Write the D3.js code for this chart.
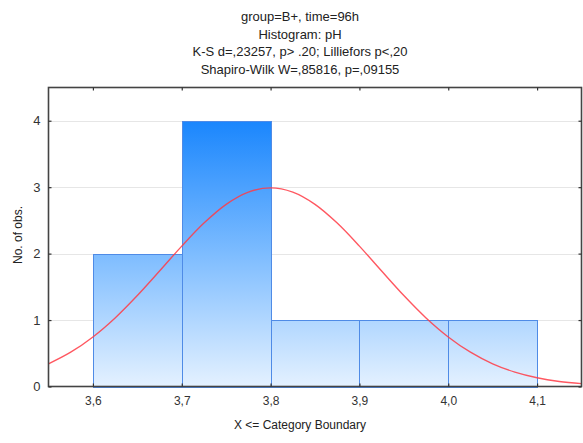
<!DOCTYPE html>
<html><head><meta charset="utf-8">
<script src="https://cdn.jsdelivr.net/npm/d3@7"></script>
<style>
html,body{margin:0;padding:0;background:#fff;}
text{font-family:"Liberation Sans",Arial,sans-serif;}
</style></head>
<body>
<svg id="chart" width="583" height="443"></svg>
<script>
// ---- data ----
const titleLines = ["group=B+, time=96h","Histogram: pH","K-S d=,23257, p> .20; Lilliefors p<,20","Shapiro-Wilk W=,85816, p=,09155"];
const binStarts = [3.6, 3.7, 3.8, 3.9, 4.0];
const binEnds   = [3.7, 3.8, 3.9, 4.0, 4.1];
const counts    = [2, 4, 1, 1, 1];
const xTicks = [3.6, 3.7, 3.8, 3.9, 4.0, 4.1];
const xTickLabels = ["3,6","3,7","3,8","3,9","4,0","4,1"];
const yTicks = [0, 1, 2, 3, 4];
const curveX = [3.55,3.575,3.6,3.625,3.65,3.675,3.7,3.725,3.75,3.775,3.8,3.825,3.85,3.875,3.9,3.925,3.95,3.975,4.0,4.025,4.05,4.075,4.1,4.125,4.15];
const curveY = [0.341,0.516,0.746,1.032,1.369,1.738,2.113,2.460,2.742,2.926,2.99,2.926,2.742,2.460,2.113,1.738,1.369,1.032,0.746,0.516,0.341,0.216,0.131,0.076,0.043];
const xLabel = "X <= Category Boundary";
const yLabel = "No. of obs.";

// ---- layout ----
const svg = d3.select("#chart");
const L = 48.5, R = 581.5, T = 87.5, B = 386.5;
const x = d3.scaleLinear().domain([3.55, 4.15]).range([L, R]);
const y = d3.scaleLinear().domain([0, 4.5]).range([B, T]);

const defs = svg.append("defs");
const grad = defs.append("linearGradient").attr("id","barGrad")
  .attr("gradientUnits","userSpaceOnUse")
  .attr("x1",0).attr("x2",0).attr("y1",y(4)).attr("y2",y(0));
grad.append("stop").attr("offset","0%").attr("stop-color","#1a86fd");
grad.append("stop").attr("offset","50%").attr("stop-color","#7dbcff");
grad.append("stop").attr("offset","100%").attr("stop-color","#e4f1ff");

const clip = defs.append("clipPath").attr("id","plotClip");
clip.append("rect").attr("x",L).attr("y",T).attr("width",R-L).attr("height",B-T);

// title
svg.append("g").selectAll("text").data(titleLines).join("text")
  .attr("x", 300).attr("y",(d,i)=>21 + i*17.5)
  .attr("text-anchor","middle").attr("font-size",13).attr("fill","#222")
  .text(d=>d);

// gridlines
svg.append("g").selectAll("line").data(yTicks.filter(d=>d>0)).join("line")
  .attr("x1",L).attr("x2",R).attr("y1",d=>Math.round(y(d))+0.5).attr("y2",d=>Math.round(y(d))+0.5)
  .attr("stroke","#e6e6e6").attr("stroke-width",1);

// bars
svg.append("g").selectAll("rect").data(counts).join("rect")
  .attr("x",(d,i)=>Math.round(x(binStarts[i]))+0.5)
  .attr("width",(d,i)=>Math.round(x(binEnds[i]))-Math.round(x(binStarts[i])))
  .attr("y",d=>Math.round(y(d))+0.5)
  .attr("height",d=>Math.round(y(0))-Math.round(y(d)))
  .attr("fill","url(#barGrad)").attr("stroke","#4f8be6").attr("stroke-width",1);

// normal curve
const line = d3.line().x((d,i)=>x(curveX[i])).y(d=>y(d)).curve(d3.curveCatmullRom);
svg.append("path").datum(curveY).attr("d",line)
  .attr("clip-path","url(#plotClip)")
  .attr("fill","none").attr("stroke","#ff3b45").attr("stroke-opacity",0.85).attr("stroke-width",1.4);

// frame
svg.append("rect").attr("x",L).attr("y",T).attr("width",R-L).attr("height",B-T)
  .attr("fill","none").attr("stroke","#444").attr("stroke-width",1.6);

// axes (inward ticks)
const axL = d3.axisLeft(y).tickValues(yTicks).tickSize(-3).tickPadding(8).tickFormat(d3.format("d"));
const axR = d3.axisRight(y).tickValues(yTicks).tickSize(-3).tickFormat("");
const axB = d3.axisBottom(x).tickValues(xTicks).tickSize(-3).tickPadding(10).tickFormat((d,i)=>xTickLabels[i]);
const axT = d3.axisTop(x).tickValues(xTicks).tickSize(-3).tickFormat("");
function style(g, fs){ g.select(".domain").remove(); g.selectAll(".tick line").attr("stroke","#333").attr("stroke-width",1.2);
  g.selectAll(".tick text").attr("font-size",fs).attr("fill","#333").attr("font-family","Liberation Sans, Arial, sans-serif"); }
svg.append("g").attr("transform",`translate(${L},0)`).call(axL).call(style, 13);
svg.append("g").attr("transform",`translate(${R},0)`).call(axR).call(style, 12);
svg.append("g").attr("transform",`translate(0,${B})`).call(axB).call(style, 12);
svg.append("g").attr("transform",`translate(0,${T})`).call(axT).call(style, 12);

// axis labels
svg.append("text").attr("x",300).attr("y",429).attr("text-anchor","middle")
  .attr("font-size",12).attr("fill","#222").text(xLabel);
svg.append("text").attr("transform","translate(22,235) rotate(-90)").attr("text-anchor","middle")
  .attr("font-size",12).attr("fill","#222").text(yLabel);
</script>
</body></html>
